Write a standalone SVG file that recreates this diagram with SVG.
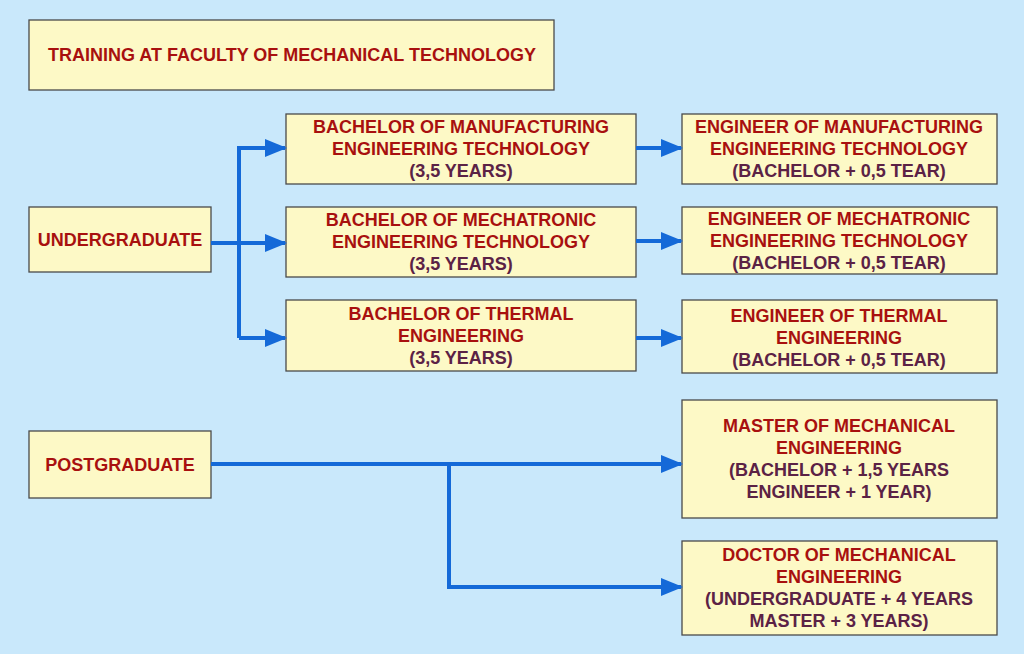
<svg xmlns="http://www.w3.org/2000/svg" width="1024" height="654" viewBox="0 0 1024 654">
<defs>
<style>
.box{fill:#fdf9c6;stroke:#4a4a4a;stroke-width:1.3}
.t{font-family:"Liberation Sans",Arial,sans-serif;font-weight:bold;font-size:18px;fill:#a8100f;text-anchor:middle}
.p{fill:#5b2245}
.c{fill:none;stroke:#1469d8;stroke-width:4}
</style>
<marker id="ah" markerUnits="userSpaceOnUse" markerWidth="22" markerHeight="18" refX="20" refY="9" orient="auto">
<path d="M0,0 L22,9 L0,18 Z" fill="#1469d8"/>
</marker>
</defs>
<rect width="1024" height="654" fill="#c9e8fb"/>
<g id="title"><rect class="box" x="29" y="20" width="525" height="70"/><text class="t" x="292" y="61">TRAINING AT FACULTY OF MECHANICAL TECHNOLOGY</text></g>
<g id="undergrad"><rect class="box" x="29" y="207" width="182" height="65"/><text class="t" x="120" y="246">UNDERGRADUATE</text></g>
<g id="bach1"><rect class="box" x="286" y="114" width="350" height="70"/><text class="t" x="461" y="133">BACHELOR OF MANUFACTURING</text><text class="t" x="461" y="155">ENGINEERING TECHNOLOGY</text><text class="t p" x="461" y="177">(3,5 YEARS)</text></g>
<g id="bach2"><rect class="box" x="286" y="207" width="350" height="70"/><text class="t" x="461" y="226">BACHELOR OF MECHATRONIC</text><text class="t" x="461" y="248">ENGINEERING TECHNOLOGY</text><text class="t p" x="461" y="270">(3,5 YEARS)</text></g>
<g id="bach3"><rect class="box" x="286" y="300" width="350" height="71"/><text class="t" x="461" y="320">BACHELOR OF THERMAL</text><text class="t" x="461" y="342">ENGINEERING</text><text class="t p" x="461" y="364">(3,5 YEARS)</text></g>
<g id="eng1"><rect class="box" x="682" y="114" width="315" height="70"/><text class="t" x="839" y="133">ENGINEER OF MANUFACTURING</text><text class="t" x="839" y="155">ENGINEERING TECHNOLOGY</text><text class="t p" x="839" y="177">(BACHELOR + 0,5 TEAR)</text></g>
<g id="eng2"><rect class="box" x="682" y="207" width="315" height="67"/><text class="t" x="839" y="225">ENGINEER OF MECHATRONIC</text><text class="t" x="839" y="247">ENGINEERING TECHNOLOGY</text><text class="t p" x="839" y="269">(BACHELOR + 0,5 TEAR)</text></g>
<g id="eng3"><rect class="box" x="682" y="300" width="315" height="73"/><text class="t" x="839" y="322">ENGINEER OF THERMAL</text><text class="t" x="839" y="344">ENGINEERING</text><text class="t p" x="839" y="366">(BACHELOR + 0,5 TEAR)</text></g>
<g id="postgrad"><rect class="box" x="29" y="431" width="182" height="67"/><text class="t" x="120" y="471">POSTGRADUATE</text></g>
<g id="master"><rect class="box" x="682" y="400" width="315" height="118"/><text class="t" x="839" y="432">MASTER OF MECHANICAL</text><text class="t" x="839" y="454">ENGINEERING</text><text class="t p" x="839" y="476">(BACHELOR + 1,5 YEARS</text><text class="t p" x="839" y="498">ENGINEER + 1 YEAR)</text></g>
<g id="doctor"><rect class="box" x="682" y="541" width="315" height="94"/><text class="t" x="839" y="561">DOCTOR OF MECHANICAL</text><text class="t" x="839" y="583">ENGINEERING</text><text class="t p" x="839" y="605">(UNDERGRADUATE + 4 YEARS</text><text class="t p" x="839" y="627">MASTER + 3 YEARS)</text></g>
<g id="connectors">
<path class="c" d="M211,243 H285" marker-end="url(#ah)"/>
<path class="c" d="M239,338 V148 H285" marker-end="url(#ah)"/>
<path class="c" d="M239,338 H285" marker-end="url(#ah)"/>
<path class="c" d="M636,148 H681" marker-end="url(#ah)"/>
<path class="c" d="M636,241 H681" marker-end="url(#ah)"/>
<path class="c" d="M636,338 H681" marker-end="url(#ah)"/>
<path class="c" d="M211,464 H681" marker-end="url(#ah)"/>
<path class="c" d="M449,464 V587 H681" marker-end="url(#ah)"/>
</g>
</svg>
